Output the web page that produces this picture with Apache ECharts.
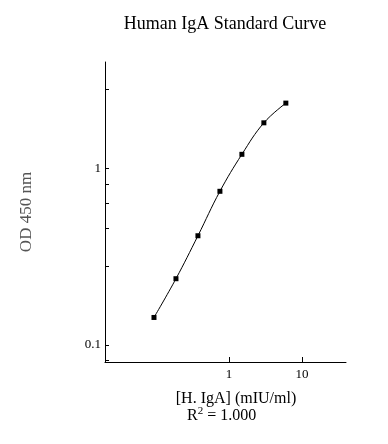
<!DOCTYPE html>
<html>
<head>
<meta charset="utf-8">
<script src="https://cdn.jsdelivr.net/npm/echarts@6/dist/echarts.min.js"></script>
<style>html,body{margin:0;padding:0;background:#fff;}#c{width:388px;height:444px;}</style>
</head>
<body>
<div id="c"></div>
<script>
// Data
var concentrations = [0.09375, 0.1875, 0.375, 0.75, 1.5, 3, 6];
var odValues = [0.143, 0.237, 0.415, 0.741, 1.20, 1.81, 2.34];
var xTickValues = [1, 10];
var xLabelValues = [1, 10];
var yTickValues = [0.082, 0.1, 0.278, 0.458, 0.634, 0.812, 1, 2.79];
var yLabelValues = [0.1, 1];
var titleText = 'Human IgA Standard Curve';
var xName = '[H. IgA] (mIU/ml)';
var yName = 'OD 450 nm';

var serif = '"Liberation Serif", "Times New Roman", serif';
var chart = echarts.init(document.getElementById('c'), null, {renderer: 'canvas'});
var points = concentrations.map(function (c, i) { return [c, odValues[i]]; });

chart.setOption({
  animation: false,
  backgroundColor: '#fff',
  title: {
    text: titleText,
    left: 225,
    top: 15,
    padding: 0,
    textAlign: 'center',
    textStyle: {fontFamily: serif, fontSize: 18, fontWeight: 'normal', color: '#000'}
  },
  grid: {left: 105, right: 42, top: 62, bottom: 82, containLabel: false, outerBoundsMode: 'none'},
  xAxis: {
    type: 'log',
    logBase: 10,
    min: 0.02,
    max: 40,
    name: xName,
    nameLocation: 'middle',
    nameGap: 29,
    nameTextStyle: {fontFamily: serif, fontSize: 16, color: '#000', padding: [0, 0, 0, 21]},
    axisLine: {lineStyle: {color: '#000', width: 1}},
    axisTick: {inside: true, length: 5, lineStyle: {color: '#000'}, customValues: xTickValues},
    axisLabel: {fontFamily: serif, fontSize: 13, color: '#000', margin: 6, customValues: xLabelValues},
    splitLine: {show: false},
    minorTick: {show: false}
  },
  yAxis: {
    type: 'log',
    logBase: 10,
    min: 0.08,
    max: 4,
    name: yName,
    nameLocation: 'middle',
    nameGap: 70,
    nameTextStyle: {fontFamily: serif, fontSize: 17, color: '#555'},
    axisLine: {lineStyle: {color: '#000', width: 1}},
    axisTick: {inside: true, length: 4, lineStyle: {color: '#000'}, customValues: yTickValues},
    axisLabel: {fontFamily: serif, fontSize: 13, color: '#000', margin: 4, customValues: yLabelValues},
    splitLine: {show: false},
    minorTick: {show: false}
  },
  graphic: [{
    type: 'text',
    left: 187,
    top: 406,
    style: {
      text: '{a|R}{s|2}{a| = 1.000}',
      rich: {
        a: {fontFamily: serif, fontSize: 16, color: '#000', lineHeight: 18},
        s: {fontFamily: serif, fontSize: 11, color: '#000', lineHeight: 18, padding: [0, 0, 8, 0]}
      }
    }
  }],
  series: [{
    type: 'line',
    data: points,
    smooth: 0.4,
    symbol: 'rect',
    symbolSize: 5,
    lineStyle: {color: '#000', width: 1},
    itemStyle: {color: '#000'}
  }]
});
</script>
</body>
</html>
